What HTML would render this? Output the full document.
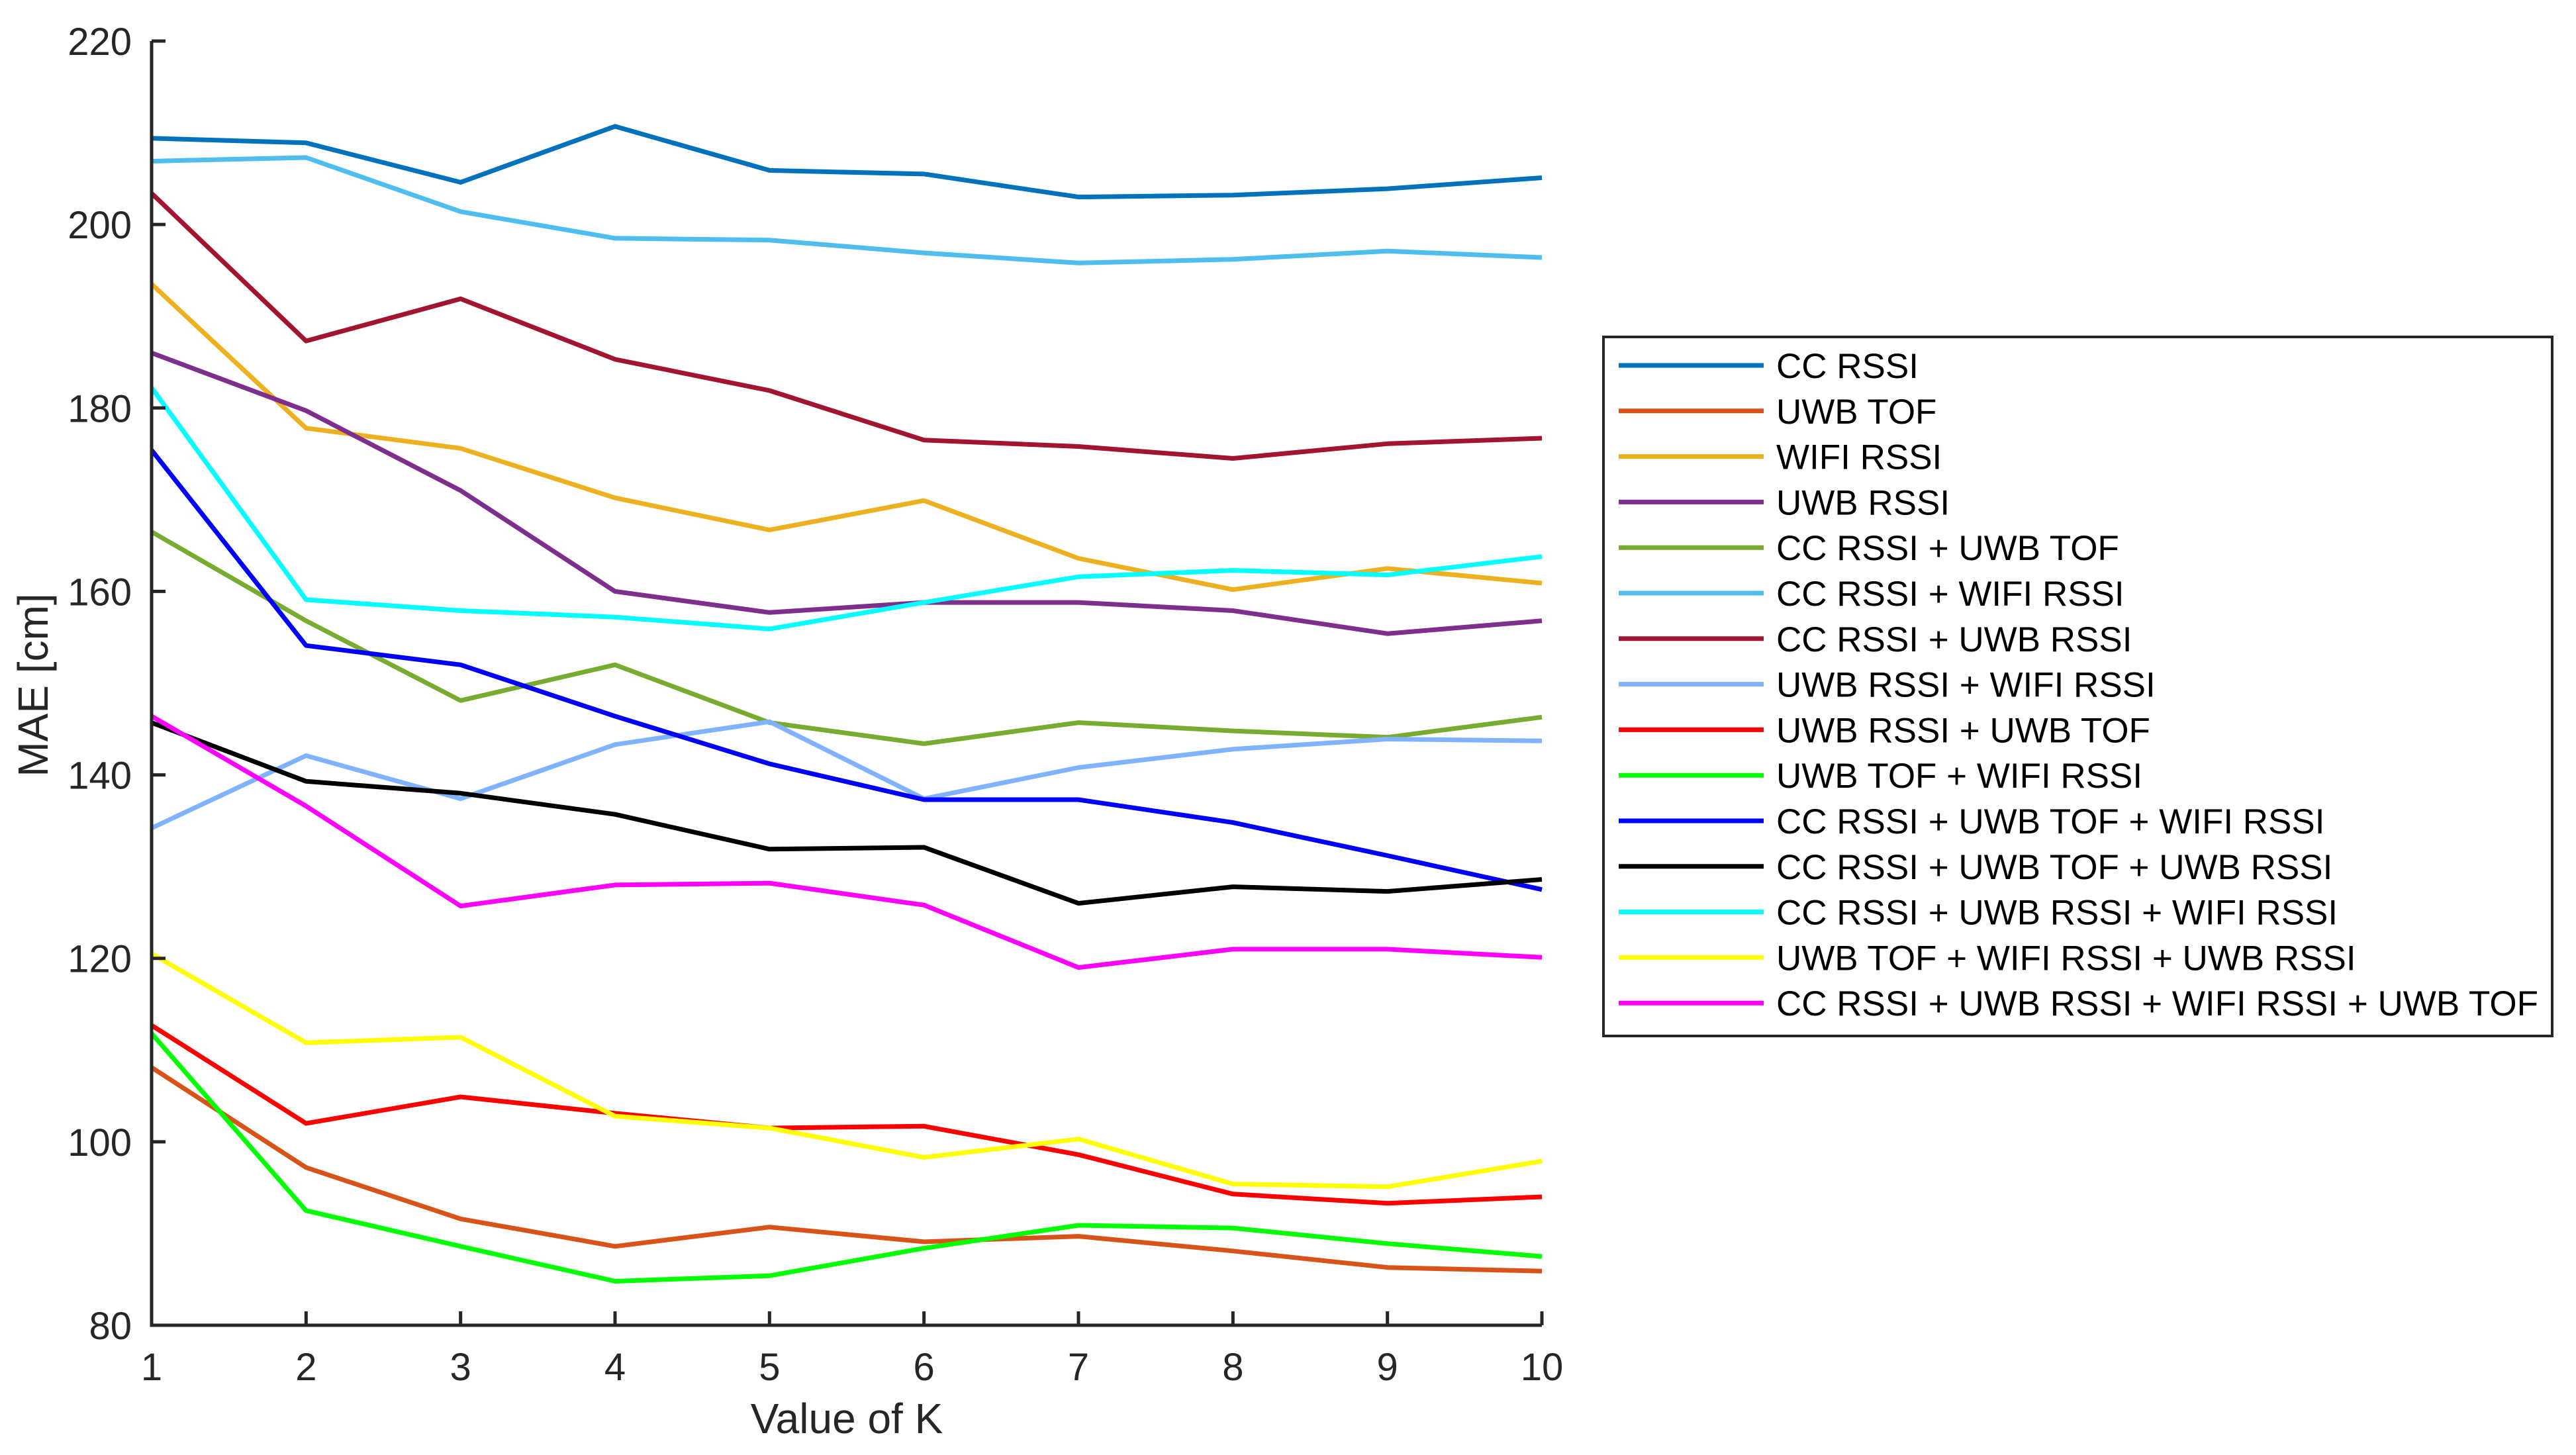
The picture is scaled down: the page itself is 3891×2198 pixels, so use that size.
<!DOCTYPE html>
<html><head><meta charset="utf-8"><style>
html,body{margin:0;padding:0;background:#fff;}
svg{display:block;font-family:"Liberation Sans",sans-serif;}
</style></head><body>
<svg id="chart" width="3891" height="2198" viewBox="0 0 3891 2198" xmlns="http://www.w3.org/2000/svg">
<g id="grid"></g><g id="series"></g><g id="axes"></g><g id="legend"></g>
</svg>
<script>
const categories=[1,2,3,4,5,6,7,8,9,10];
const yTicks=[80,100,120,140,160,180,200,220];
const seriesNames=["CC RSSI","UWB TOF","WIFI RSSI","UWB RSSI","CC RSSI + UWB TOF","CC RSSI + WIFI RSSI","CC RSSI + UWB RSSI","UWB RSSI + WIFI RSSI","UWB RSSI + UWB TOF","UWB TOF + WIFI RSSI","CC RSSI + UWB TOF + WIFI RSSI","CC RSSI + UWB TOF + UWB RSSI","CC RSSI + UWB RSSI + WIFI RSSI","UWB TOF + WIFI RSSI + UWB RSSI","CC RSSI + UWB RSSI + WIFI RSSI + UWB TOF"];
const seriesColors=["#0072BD","#D95319","#EDB120","#7E2F8E","#77AC30","#4DBEEE","#A2142F","#80B3FF","#FF0000","#00FF00","#0000FF","#000000","#00FFFF","#FFFF00","#FF00FF"];
const ccRssi=[209.4,208.9,204.6,210.7,205.9,205.5,203.0,203.2,203.9,205.1];
const uwbTof=[108.1,97.2,91.6,88.6,90.7,89.1,89.7,88.1,86.3,85.9];
const wifiRssi=[193.5,177.8,175.6,170.2,166.7,169.9,163.6,160.2,162.5,160.9];
const uwbRssi=[186.0,179.7,171.0,160.0,157.7,158.8,158.8,157.9,155.4,156.8];
const ccUwbTof=[166.5,156.8,148.1,152.0,145.7,143.4,145.7,144.8,144.1,146.3];
const ccWifi=[206.9,207.3,201.4,198.5,198.3,196.9,195.8,196.2,197.1,196.4];
const ccUwbRssi=[203.4,187.3,191.9,185.3,181.9,176.5,175.8,174.5,176.1,176.7];
const uwbRssiWifi=[134.2,142.1,137.4,143.3,145.8,137.4,140.8,142.8,143.9,143.7];
const uwbRssiUwbTof=[112.7,102.0,104.9,103.1,101.5,101.7,98.6,94.3,93.3,94.0];
const uwbTofWifi=[111.8,92.5,88.6,84.8,85.4,88.4,90.9,90.6,88.9,87.5];
const ccTofWifi=[175.4,154.1,152.0,146.4,141.2,137.3,137.3,134.8,131.2,127.5];
const ccTofRssi=[145.7,139.3,138.0,135.7,131.9,132.1,126.0,127.8,127.3,128.6];
const ccRssiWifi=[182.2,159.1,157.9,157.2,155.9,158.8,161.6,162.3,161.8,163.8];
const tofWifiRssi=[120.5,110.8,111.4,102.8,101.5,98.3,100.3,95.4,95.1,97.9];
const allFour=[146.4,136.6,125.7,128.0,128.2,125.8,119.0,121.0,121.0,120.1];
const seriesValues=[ccRssi,uwbTof,wifiRssi,uwbRssi,ccUwbTof,ccWifi,ccUwbRssi,uwbRssiWifi,uwbRssiUwbTof,uwbTofWifi,ccTofWifi,ccTofRssi,ccRssiWifi,tofWifiRssi,allFour];

const NS="http://www.w3.org/2000/svg";
const L=229,R=2329,T=62,B=2002;
const xMin=1,xMax=10,yMin=80,yMax=220;
function xs(v){return L+(v-xMin)/(xMax-xMin)*(R-L);}
function ys(v){return B-(v-yMin)/(yMax-yMin)*(B-T);}
function mk(tag,attrs,parent){const e=document.createElementNS(NS,tag);for(const k in attrs)e.setAttribute(k,attrs[k]);parent.appendChild(e);return e;}
const gS=document.getElementById('series'),gA=document.getElementById('axes'),gL=document.getElementById('legend');

seriesValues.forEach((vals,i)=>{
  const d=vals.map((v,j)=>(j?'L':'M')+xs(categories[j]).toFixed(1)+','+ys(v).toFixed(1)).join(' ');
  const p=mk('path',{d:d,fill:'none',stroke:seriesColors[i],'stroke-width':7,'stroke-linejoin':'round'},gS);
  
  
});

const ax=mk('path',{d:`M${L},${T} L${L},${B} L${R},${B}`,fill:'none',stroke:'#262626','stroke-width':5},gA);


categories.forEach(c=>{
  const x=xs(c);
  const t=mk('line',{x1:x,y1:B,x2:x,y2:B-21,stroke:'#262626','stroke-width':5},gA);
  
  
  const tx=mk('text',{x:x,y:2085,'font-size':58,'text-anchor':'middle',fill:'#262626'},gA);
  tx.textContent=c;
  
  
});
yTicks.forEach(v=>{
  const y=ys(v);
  const t=mk('line',{x1:L,y1:y,x2:L+21,y2:y,stroke:'#262626','stroke-width':5},gA);
  
  
  const tx=mk('text',{x:199,y:y+21,'font-size':58,'text-anchor':'end',fill:'#262626'},gA);
  tx.textContent=v;
  
  
});
const xt=mk('text',{x:1279,y:2165,'font-size':64,'text-anchor':'middle',fill:'#262626'},gA);
xt.textContent='Value of K';


const yt=mk('text',{x:0,y:0,'font-size':64,'text-anchor':'middle',fill:'#262626',transform:'translate(72,1035) rotate(-90)'},gA);
yt.textContent='MAE [cm]';



const box=mk('rect',{x:2422,y:509,width:1433,height:1056,fill:'#fff',stroke:'#262626','stroke-width':4},gL);


seriesNames.forEach((n,i)=>{
  const y=552+i*68.8;
  const ln=mk('line',{x1:2445,y1:y,x2:2664,y2:y,stroke:seriesColors[i],'stroke-width':7},gL);
  
  
  const tx=mk('text',{x:2683,y:y+19,'font-size':53,fill:'#000'},gL);
  tx.textContent=n;
  
  
});
</script>
</body></html>
